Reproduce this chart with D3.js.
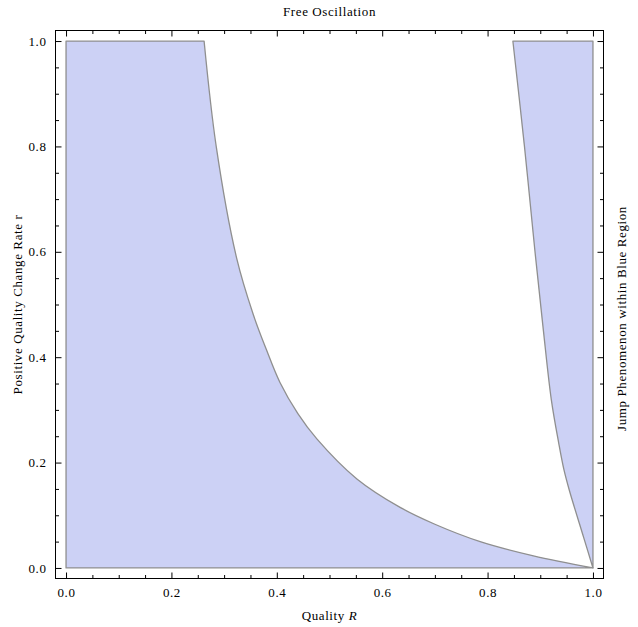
<!DOCTYPE html>
<html>
<head>
<meta charset="utf-8">
<script src="https://cdn.jsdelivr.net/npm/d3@7"></script>
<style>
  body { margin: 0; background: #fff; }
  svg text { font-family: "Liberation Serif", "DejaVu Serif", serif; font-size: 13px; letter-spacing: 0.6px; fill: #000; }
</style>
</head>
<body>
<svg id="chart" width="638" height="627"></svg>
<script>
// boundary of the left blue region (Quality R, rate r)
const leftR    = [0.262, 0.285, 0.324, 0.355, 0.380, 0.406, 0.440, 0.476, 0.552, 0.634, 0.700, 0.786, 0.887, 1.000];
const leftRate = [1.000, 0.800, 0.587, 0.482, 0.415, 0.352, 0.293, 0.245, 0.169, 0.115, 0.083, 0.050, 0.023, 0.000];
// boundary of the right blue region
const rightR    = [0.848, 0.870, 0.890, 0.906, 0.921, 0.935, 0.945, 0.955, 0.982, 1.000];
const rightRate = [1.000, 0.800, 0.600, 0.450, 0.319, 0.237, 0.186, 0.148, 0.059, 0.000];

const majorTicks = [0, 0.2, 0.4, 0.6, 0.8, 1.0];
const minorTicks = [0.05, 0.1, 0.15, 0.25, 0.3, 0.35, 0.45, 0.5, 0.55, 0.65, 0.7, 0.75, 0.85, 0.9, 0.95];

const title  = "Free Oscillation";
const yLabel = "Positive Quality Change Rate r";
const rLabel = "Jump Phenomenon within Blue Region";

const svg = d3.select("#chart");

// plot range padded 2% like the original
const xScale = d3.scaleLinear().domain([-0.02, 1.02]).range([55.5, 603.5]);
const yScale = d3.scaleLinear().domain([-0.02, 1.02]).range([578.5, 30.5]);

const curve = d3.line().x(d => xScale(d[0])).y(d => yScale(d[1])).curve(d3.curveCatmullRom.alpha(0.5));
const pt = d => `${xScale(d[0])},${yScale(d[1])}`;

// left region: (0,0) -> (0,1) -> then the curve down to (1,0)
const leftPts = leftR.map((v, i) => [v, leftRate[i]]);
const leftPath = `M${pt([0, 0])}L${pt([0, 1])}L` + curve(leftPts).slice(1) + "Z";
// right region: (1,0) -> (1,1) -> (0.848,1) then the curve down to (1,0)
const rightPts = rightR.map((v, i) => [v, rightRate[i]]);
const rightPath = `M${pt([1, 0])}L${pt([1, 1])}L` + curve(rightPts).slice(1) + "Z";

svg.selectAll(".region")
  .data([leftPath, rightPath])
  .join("path")
  .attr("class", "region")
  .attr("d", d => d)
  .attr("fill", "#ccd1f5")
  .attr("stroke", "#8f8f8f")
  .attr("stroke-width", 1.3)
  .attr("stroke-linejoin", "round");

// frame axes, ticks point inward
const addAxis = (axisFn, scale, transform, size, values, labels) => {
  const ax = axisFn(scale).tickValues(values).tickSizeInner(-size).tickSizeOuter(0)
    .tickPadding(labels ? 9 : 0)
    .tickFormat(labels ? d3.format(".1f") : "");
  const g = svg.append("g").attr("transform", transform).call(ax);
  g.select(".domain").remove();
  g.selectAll(".tick line").attr("stroke", "#000");
  return g;
};

const xb = xScale.range(), yb = yScale.range();
addAxis(d3.axisBottom, xScale, `translate(0,${yb[0]})`, 6, majorTicks, true);
addAxis(d3.axisBottom, xScale, `translate(0,${yb[0]})`, 3.5, minorTicks, false);
addAxis(d3.axisTop, xScale, `translate(0,${yb[1]})`, 6, majorTicks, false);
addAxis(d3.axisTop, xScale, `translate(0,${yb[1]})`, 3.5, minorTicks, false);
addAxis(d3.axisLeft, yScale, `translate(${xb[0]},0)`, 6, majorTicks, true);
addAxis(d3.axisLeft, yScale, `translate(${xb[0]},0)`, 3.5, minorTicks, false);
addAxis(d3.axisRight, yScale, `translate(${xb[1]},0)`, 6, majorTicks, false);
addAxis(d3.axisRight, yScale, `translate(${xb[1]},0)`, 3.5, minorTicks, false);

svg.selectAll(".tick text").style("font-size", "13px").style("font-family", '"Liberation Serif", serif');

// frame
svg.append("rect")
  .attr("x", xb[0]).attr("y", yb[1])
  .attr("width", xb[1] - xb[0]).attr("height", yb[0] - yb[1])
  .attr("fill", "none").attr("stroke", "#000").attr("stroke-width", 1);

// title
svg.append("text")
  .attr("x", (xb[0] + xb[1]) / 2).attr("y", 16)
  .attr("text-anchor", "middle")
  .text(title);

// x label with italic R
const xl = svg.append("text")
  .attr("x", (xb[0] + xb[1]) / 2).attr("y", 620)
  .attr("text-anchor", "middle");
xl.append("tspan").text("Quality ");
xl.append("tspan").attr("font-style", "italic").text("R");

// y labels
svg.append("text")
  .attr("transform", `translate(22,${(yb[0] + yb[1]) / 2}) rotate(-90)`)
  .attr("text-anchor", "middle")
  .text(yLabel);

svg.append("text")
  .attr("transform", `translate(626,${(yb[0] + yb[1]) / 2 + 14}) rotate(-90)`)
  .attr("text-anchor", "middle")
  .text(rLabel);
</script>
</body>
</html>
